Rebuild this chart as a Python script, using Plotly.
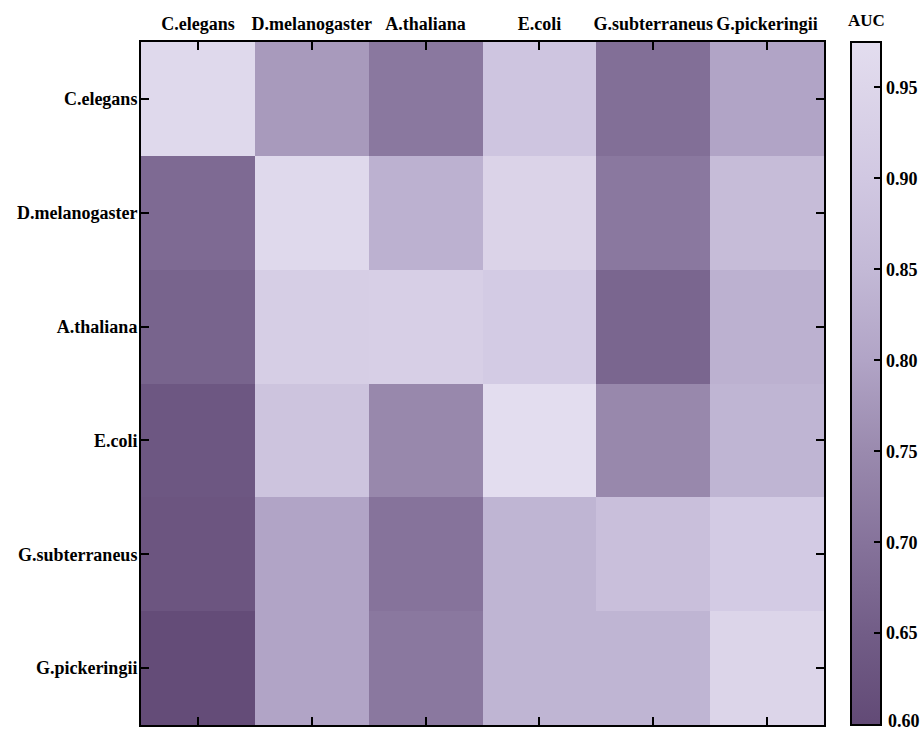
import plotly.graph_objects as go

species = ["C.elegans", "D.melanogaster", "A.thaliana", "E.coli", "G.subterraneus", "G.pickeringii"]

row_c_elegans = [0.960, 0.780, 0.710, 0.890, 0.690, 0.800]
row_d_melanogaster = [0.680, 0.960, 0.830, 0.940, 0.710, 0.860]
row_a_thaliana = [0.665, 0.920, 0.925, 0.910, 0.670, 0.830]
row_e_coli = [0.635, 0.885, 0.745, 0.975, 0.745, 0.840]
row_g_subterraneus = [0.630, 0.800, 0.700, 0.840, 0.870, 0.910]
row_g_pickeringii = [0.605, 0.800, 0.710, 0.840, 0.840, 0.945]

z = [row_c_elegans, row_d_melanogaster, row_a_thaliana, row_e_coli, row_g_subterraneus, row_g_pickeringii]

cb_ticks = [0.60, 0.65, 0.70, 0.75, 0.80, 0.85, 0.90, 0.95]
zmin, zmax = 0.5995, 0.975

stops = [0.5995, 0.65, 0.70, 0.75, 0.80, 0.85, 0.90, 0.95, 0.975]
stop_colors = ["#624a76", "#725d87", "#86739b", "#9a8aae", "#b1a4c6", "#c3b9d6", "#d1c8e2", "#ddd6ea", "#e3ddef"]
colorscale = [[(s - zmin) / (zmax - zmin), c] for s, c in zip(stops, stop_colors)]

font_family = "Liberation Serif"
W, H = 922, 732
ml, mr, mt, mb = 141, 98, 42, 7
plot_w = W - ml - mr
plot_h = H - mt - mb
cb_x = (851 - ml) / plot_w
lbl_font = dict(family=font_family, size=18, color="black", weight="bold")

fig = go.Figure(go.Heatmap(
    z=z, x=species, y=species,
    colorscale=colorscale, zmin=zmin, zmax=zmax,
    colorbar=dict(
        x=cb_x, xanchor="left", xpad=0, ypad=0,
        y=0.5, yanchor="middle", len=1, lenmode="fraction",
        thickness=30, thicknessmode="pixels",
        outlinewidth=2, outlinecolor="black",
        tickvals=cb_ticks[1:], ticktext=[f"{v:.2f}" for v in cb_ticks[1:]],
        ticks="inside", ticklen=8, tickwidth=2, tickcolor="black",
        tickfont=lbl_font,
    ),
))

# left-side ticks on the colorbar
shapes = []
for v in cb_ticks[1:]:
    yy = (v - zmin) / (zmax - zmin)
    shapes.append(dict(type="line", xref="paper", yref="paper",
                       xsizemode="pixel", xanchor=cb_x, x0=0, x1=8,
                       y0=yy, y1=yy, line=dict(color="black", width=2)))

annotations = [
    dict(text="AUC", xref="paper", yref="paper",
         x=(866 - ml) / plot_w, y=1 + 22 / plot_h,
         xanchor="center", yanchor="middle", showarrow=False,
         font=dict(family=font_family, size=17, color="black", weight="bold")),
    # lowest colorbar label, sitting on the bar's bottom edge
    dict(text=f"{cb_ticks[0]:.2f}", xref="paper", yref="paper",
         x=(886 - ml) / plot_w, y=(cb_ticks[0] - zmin) / (zmax - zmin) + 3 / plot_h,
         xanchor="left", yanchor="middle", showarrow=False, font=lbl_font),
]

fig.update_layout(
    width=W, height=H,
    margin=dict(l=ml, r=mr, t=mt, b=mb, autoexpand=False),
    paper_bgcolor="white", plot_bgcolor="white",
    shapes=shapes,
    annotations=annotations,
    xaxis=dict(side="top", showline=True, linewidth=2, linecolor="black", mirror="ticks",
               ticks="inside", ticklen=8, tickwidth=2, tickcolor="black", tickangle=0,
               automargin=False, tickfont=lbl_font, ticklabelstandoff=3,
               showgrid=False, zeroline=False),
    yaxis=dict(autorange="reversed", showline=True, linewidth=2, linecolor="black", mirror="ticks",
               ticks="inside", ticklen=8, tickwidth=2, tickcolor="black", automargin=False,
               tickfont=lbl_font,
               showgrid=False, zeroline=False, ticklabelstandoff=-2),
)

fig.write_html("out.html", config={"displayModeBar": False},
               post_script="document.body.style.margin='0';")
